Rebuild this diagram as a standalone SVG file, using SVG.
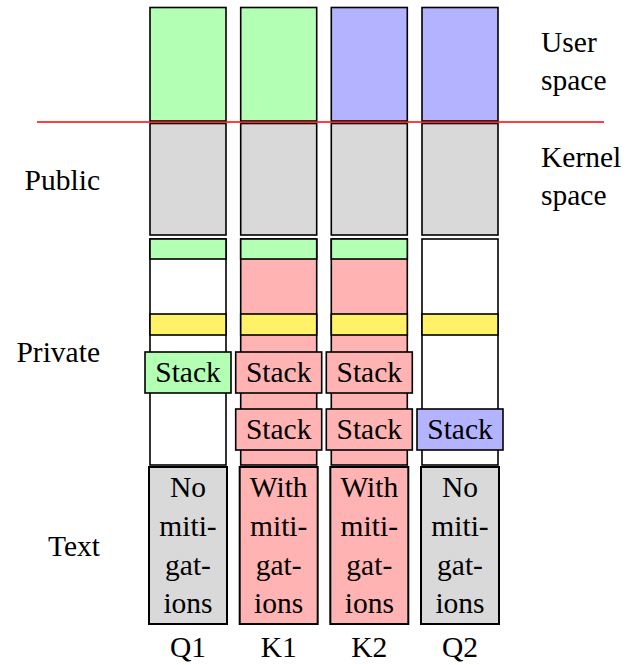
<svg xmlns="http://www.w3.org/2000/svg" width="626" height="665" viewBox="0 0 626 665">
<defs>
<symbol id="unused"/>
</defs>
<g stroke="#000" stroke-width="1.6">
<g id="col-Q1">
<rect fill="#b3ffb3" x="150" y="7.5" width="76" height="113.5"/>
<rect fill="#d9d9d9" x="150" y="123.5" width="76" height="111.5"/>
<rect fill="#ffffff" x="150" y="239" width="76" height="226"/>
<rect fill="#b3ffb3" x="150" y="239" width="76" height="20"/>
<rect fill="#fff266" x="150" y="314" width="76" height="21"/>
</g>
<g id="col-K1">
<rect fill="#b3ffb3" x="240.7" y="7.5" width="76" height="113.5"/>
<rect fill="#d9d9d9" x="240.7" y="123.5" width="76" height="111.5"/>
<rect fill="#ffb3b3" x="240.7" y="239" width="76" height="226"/>
<rect fill="#b3ffb3" x="240.7" y="239" width="76" height="20"/>
<rect fill="#fff266" x="240.7" y="314" width="76" height="21"/>
</g>
<g id="col-K2">
<rect fill="#b3b3ff" x="331.3" y="7.5" width="76" height="113.5"/>
<rect fill="#d9d9d9" x="331.3" y="123.5" width="76" height="111.5"/>
<rect fill="#ffb3b3" x="331.3" y="239" width="76" height="226"/>
<rect fill="#b3ffb3" x="331.3" y="239" width="76" height="20"/>
<rect fill="#fff266" x="331.3" y="314" width="76" height="21"/>
</g>
<g id="col-Q2">
<rect fill="#b3b3ff" x="422" y="7.5" width="76" height="113.5"/>
<rect fill="#d9d9d9" x="422" y="123.5" width="76" height="111.5"/>
<rect fill="#ffffff" x="422" y="239" width="76" height="226"/>
<rect fill="#fff266" x="422" y="314" width="76" height="21"/>
</g>
<g id="connectors">
<line x1="37" y1="122" x2="604" y2="122" stroke="#ff0000" stroke-width="1.6"/>
</g>
<g id="stack-Q1"><rect fill="#b3ffb3" x="145" y="352" width="86" height="41"/><text font-family="Liberation Serif" font-size="29.5" text-anchor="middle" stroke="none" x="188" y="382">Stack</text></g>
<g id="stack-K1a"><rect fill="#ffb3b3" x="235.7" y="352" width="86" height="41"/><text font-family="Liberation Serif" font-size="29.5" text-anchor="middle" stroke="none" x="278.7" y="382">Stack</text></g>
<g id="stack-K2a"><rect fill="#ffb3b3" x="326.3" y="352" width="86" height="41"/><text font-family="Liberation Serif" font-size="29.5" text-anchor="middle" stroke="none" x="369.3" y="382">Stack</text></g>
<g id="stack-K1b"><rect fill="#ffb3b3" x="235.7" y="409" width="86" height="41"/><text font-family="Liberation Serif" font-size="29.5" text-anchor="middle" stroke="none" x="278.7" y="438.5">Stack</text></g>
<g id="stack-K2b"><rect fill="#ffb3b3" x="326.3" y="409" width="86" height="41"/><text font-family="Liberation Serif" font-size="29.5" text-anchor="middle" stroke="none" x="369.3" y="438.5">Stack</text></g>
<g id="stack-Q2"><rect fill="#b3b3ff" x="417" y="409" width="86" height="41"/><text font-family="Liberation Serif" font-size="29.5" text-anchor="middle" stroke="none" x="460" y="438.5">Stack</text></g>
<g id="text-Q1"><rect fill="#d9d9d9" stroke-width="2" x="149" y="467" width="78" height="157"/>
<text font-family="Liberation Serif" font-size="29.5" text-anchor="middle" stroke="none" x="188" y="497">No</text>
<text font-family="Liberation Serif" font-size="29.5" text-anchor="middle" stroke="none" x="188" y="536">miti-</text>
<text font-family="Liberation Serif" font-size="29.5" text-anchor="middle" stroke="none" x="188" y="575">gat-</text>
<text font-family="Liberation Serif" font-size="29.5" text-anchor="middle" stroke="none" x="188" y="613">ions</text></g>
<g id="text-K1"><rect fill="#ffb3b3" stroke-width="2" x="239.7" y="467" width="78" height="157"/>
<text font-family="Liberation Serif" font-size="29.5" text-anchor="middle" stroke="none" x="278.7" y="497">With</text>
<text font-family="Liberation Serif" font-size="29.5" text-anchor="middle" stroke="none" x="278.7" y="536">miti-</text>
<text font-family="Liberation Serif" font-size="29.5" text-anchor="middle" stroke="none" x="278.7" y="575">gat-</text>
<text font-family="Liberation Serif" font-size="29.5" text-anchor="middle" stroke="none" x="278.7" y="613">ions</text></g>
<g id="text-K2"><rect fill="#ffb3b3" stroke-width="2" x="330.3" y="467" width="78" height="157"/>
<text font-family="Liberation Serif" font-size="29.5" text-anchor="middle" stroke="none" x="369.3" y="497">With</text>
<text font-family="Liberation Serif" font-size="29.5" text-anchor="middle" stroke="none" x="369.3" y="536">miti-</text>
<text font-family="Liberation Serif" font-size="29.5" text-anchor="middle" stroke="none" x="369.3" y="575">gat-</text>
<text font-family="Liberation Serif" font-size="29.5" text-anchor="middle" stroke="none" x="369.3" y="613">ions</text></g>
<g id="text-Q2"><rect fill="#d9d9d9" stroke-width="2" x="421" y="467" width="78" height="157"/>
<text font-family="Liberation Serif" font-size="29.5" text-anchor="middle" stroke="none" x="460" y="497">No</text>
<text font-family="Liberation Serif" font-size="29.5" text-anchor="middle" stroke="none" x="460" y="536">miti-</text>
<text font-family="Liberation Serif" font-size="29.5" text-anchor="middle" stroke="none" x="460" y="575">gat-</text>
<text font-family="Liberation Serif" font-size="29.5" text-anchor="middle" stroke="none" x="460" y="613">ions</text></g>
</g>
<g id="labels">
<text font-family="Liberation Serif" font-size="29.5" text-anchor="middle" x="188" y="657">Q1</text>
<text font-family="Liberation Serif" font-size="29.5" text-anchor="middle" x="278.7" y="657">K1</text>
<text font-family="Liberation Serif" font-size="29.5" text-anchor="middle" x="369.3" y="657">K2</text>
<text font-family="Liberation Serif" font-size="29.5" text-anchor="middle" x="460" y="657">Q2</text>
<text font-family="Liberation Serif" font-size="29.5" text-anchor="end" x="100" y="189.5">Public</text>
<text font-family="Liberation Serif" font-size="29.5" text-anchor="end" x="100" y="362">Private</text>
<text font-family="Liberation Serif" font-size="29.5" text-anchor="end" x="100" y="555.5">Text</text>
<text font-family="Liberation Serif" font-size="29.5" x="541" y="52">User</text>
<text font-family="Liberation Serif" font-size="29.5" x="541" y="90">space</text>
<text font-family="Liberation Serif" font-size="29.5" x="541" y="167">Kernel</text>
<text font-family="Liberation Serif" font-size="29.5" x="541" y="205">space</text>
</g>
</svg>
